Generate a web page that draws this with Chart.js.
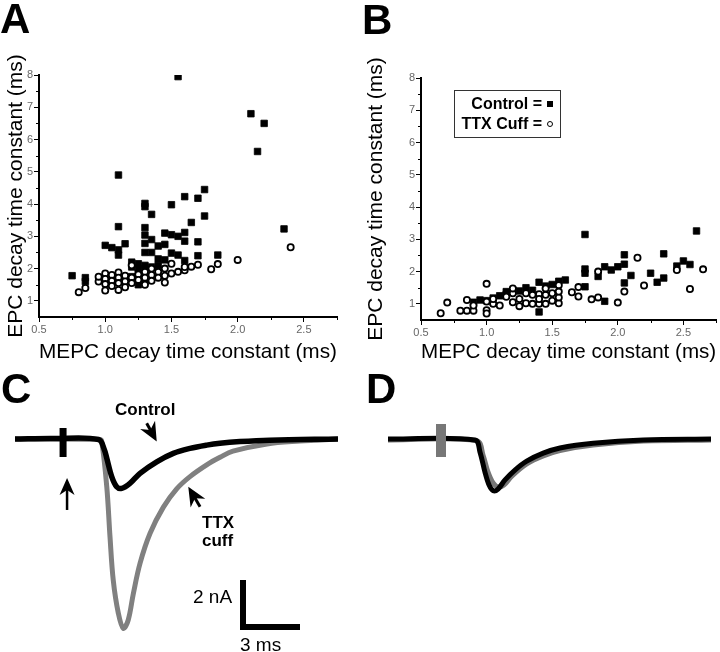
<!DOCTYPE html>
<html>
<head>
<meta charset="utf-8">
<script src="https://cdn.jsdelivr.net/npm/chart.js@4"></script>
<style>
  body { margin: 0; width: 720px; height: 652px; overflow: hidden; position: relative; background: #fff;
         font-family: "Liberation Sans", Arial, sans-serif; }
  canvas { position: absolute; }
  .lbl { position: absolute; font-weight: bold; font-size: 42px; line-height: 42px; }
  .txt { position: absolute; white-space: nowrap; line-height: 20px; }
  #legend { position: absolute; left: 454px; top: 90px; width: 98px; height: 40px; padding: 3px 7px 3px 0;
            border: 1px solid #333; font-weight: bold; font-size: 16px; line-height: 20px; text-align: right; }
  .sq { display: inline-block; width: 6px; height: 6px; background: #000; margin-left: 5px; vertical-align: 2px; }
  .ci { display: inline-block; width: 4px; height: 4px; border: 1.4px solid #000; border-radius: 50%; margin-left: 5px; vertical-align: 2px; }
</style>
</head>
<body>
<canvas id="chartA" width="360" height="365" style="left:0;top:0"></canvas>
<canvas id="chartB" width="362" height="365" style="left:360px;top:0"></canvas>
<canvas id="chartC" width="360" height="312" style="left:0;top:340px"></canvas>
<canvas id="chartD" width="360" height="312" style="left:360px;top:340px"></canvas>

<div class="lbl" style="left:0;top:-2px">A</div>
<div class="lbl" style="left:362px;top:-1px">B</div>
<div class="lbl" style="left:1px;top:368px">C</div>
<div class="lbl" style="left:366px;top:368px">D</div>

<div id="legend">
  <div>Control =<span class="sq"></span></div>
  <div>TTX Cuff =<span class="ci"></span></div>
</div>

<div class="txt" style="left:115px;top:400px;font-size:17px;font-weight:bold">Control</div>
<div class="txt" style="left:202px;top:513px;font-size:17px;font-weight:bold">TTX</div>
<div class="txt" style="left:202px;top:531px;font-size:17px;font-weight:bold">cuff</div>
<div class="txt" style="left:193px;top:587px;font-size:19px">2 nA</div>
<div class="txt" style="left:240px;top:635px;font-size:19px">3 ms</div>

<script>
// ---- scatter data: [MEPC decay (ms), EPC decay (ms)] ----
const aControl = [
  [0.75,1.78],[0.85,1.72],[0.85,1.6],
  [1.0,2.72],[1.05,2.65],[1.1,2.58],[1.1,2.42],[1.15,2.77],[1.1,3.3],[1.1,4.9],
  [1.2,2.2],[1.25,2.15],[1.2,2.05],[1.25,2.0],[1.3,2.1],[1.25,1.85],[1.3,1.95],[1.25,1.5],[1.3,1.6],[1.2,1.75],
  [1.3,2.5],[1.3,2.78],[1.3,3.04],[1.3,3.27],[1.3,3.92],[1.3,4.02],
  [1.35,3.68],[1.35,2.9],[1.35,2.5],[1.35,2.05],
  [1.4,2.7],[1.4,2.3],[1.4,2.1],[1.45,2.75],[1.45,3.1],[1.45,2.27],
  [1.5,3.05],[1.5,2.48],[1.5,3.98],[1.55,3.0],[1.55,2.42],[1.55,7.95],
  [1.6,3.12],[1.6,2.85],[1.6,2.25],[1.6,4.23],[1.65,3.43],[1.7,4.18],[1.7,2.83],[1.7,2.4],
  [1.75,4.45],[1.75,3.63],[1.85,2.42],
  [2.1,6.8],[2.15,5.63],[2.2,6.5],[2.35,3.23]
];
const aTtx = [
  [0.8,1.27],[0.85,1.4],[0.95,1.6],[0.95,1.75],
  [1.0,1.85],[1.0,1.68],[1.0,1.52],[1.0,1.32],
  [1.05,1.8],[1.05,1.62],[1.05,1.46],
  [1.1,1.88],[1.1,1.72],[1.1,1.55],[1.1,1.34],
  [1.15,1.78],[1.15,1.6],[1.15,1.42],
  [1.2,1.72],[1.2,1.55],[1.2,2.1],
  [1.25,1.82],[1.25,1.65],
  [1.3,1.9],[1.3,1.72],[1.3,1.5],
  [1.35,2.0],[1.35,1.8],[1.35,1.62],
  [1.4,1.9],[1.4,1.72],
  [1.45,2.0],[1.45,1.78],[1.45,1.57],
  [1.5,2.15],[1.5,1.85],
  [1.55,1.9],[1.6,1.95],[1.6,2.05],[1.65,2.06],[1.7,2.12],[1.8,1.98],[1.85,2.14],[2.0,2.27],[2.4,2.66]
];
const bControl = [
  [0.9,1.05],[0.95,1.12],[1.0,1.1],[1.05,1.18],[1.1,1.25],[1.15,1.38],[1.15,1.3],[1.2,1.42],[1.25,1.4],
  [1.3,1.5],[1.35,1.42],[1.4,1.67],[1.4,0.75],[1.45,1.55],[1.5,1.6],[1.55,1.7],[1.6,1.74],
  [1.75,3.15],[1.75,2.08],[1.75,1.95],[1.75,1.53],[1.85,1.85],[1.9,2.15],[1.95,2.05],[2.0,2.15],
  [2.05,2.23],[2.05,2.52],[2.05,1.65],[2.1,1.88],[1.9,1.08],[2.25,1.95],[2.3,1.67],[2.35,1.8],
  [2.35,2.55],[2.45,2.17],[2.5,2.33],[2.55,2.22],[2.6,3.26]
];
const bTtx = [
  [0.65,0.71],[0.7,1.04],[0.8,0.79],[0.85,0.79],[0.9,0.79],[0.85,1.12],[0.9,0.95],[1.0,1.62],[1.0,0.8],
  [1.0,0.7],[1.0,1.07],[1.05,1.0],[1.1,0.95],[1.05,1.15],[1.15,1.22],[1.2,1.33],[1.2,1.48],[1.2,1.05],
  [1.25,1.15],[1.25,0.93],[1.3,1.02],[1.3,1.33],[1.35,1.0],[1.35,1.28],[1.4,1.0],[1.4,1.3],[1.4,1.15],
  [1.45,1.0],[1.45,1.28],[1.45,1.48],[1.5,1.1],[1.5,1.33],[1.55,1.02],[1.55,1.2],[1.55,1.38],[1.55,1.58],
  [1.65,1.36],[1.7,1.23],[1.7,1.52],[1.8,1.14],[1.85,1.2],[1.85,2.0],[2.0,1.04],[2.05,1.38],[2.15,2.43],
  [2.2,1.57],[2.45,2.05],[2.55,1.46],[2.65,2.07]
];
const xTicks = [0.5, 1.0, 1.5, 2.0, 2.5];
const yTicks = [1, 2, 3, 4, 5, 6, 7, 8];
const xMinor = [0.75, 1.25, 1.75, 2.25, 2.75];
const yMinor = [1.5, 2.5, 3.5, 4.5, 5.5, 6.5, 7.5];

// ---- current traces: [time (ms), current (nA)] ----
const cControl = [[0,0],[2,0.02],[4.4,-0.02],[4.7,-0.45],[4.83,-0.82],[5.09,-1.6],[5.35,-2.03],[5.62,-2.1],
  [6.05,-1.89],[6.58,-1.46],[7.46,-0.97],[8.33,-0.61],[9.21,-0.4],[10.09,-0.26],[10.79,-0.18],[11.84,-0.11],[13.4,-0.05],[17,0]];
const cTtx = [[0,0],[4.45,-0.02],[4.56,-0.08],[4.83,-2.03],[5.0,-4.16],[5.17,-6.0],[5.44,-7.42],[5.7,-8.06],[5.96,-7.7],
  [6.23,-6.57],[6.58,-5.29],[7.11,-4.01],[7.81,-2.9],[8.51,-2.12],[9.21,-1.6],[10.09,-1.1],[10.79,-0.78],
  [11.47,-0.52],[13.26,-0.21],[15.0,-0.09],[17,0]];
const dControl = [[0,0],[4.58,-0.04],[4.84,-0.55],[5.1,-1.4],[5.32,-1.96],[5.54,-2.2],[5.79,-2.13],[6.16,-1.74],
  [6.68,-1.32],[7.3,-0.94],[8.17,-0.6],[9.05,-0.38],[10.8,-0.18],[13.44,-0.04],[17,0]];
const dTtx = [[0,-0.04],[4.68,-0.08],[5.0,-0.68],[5.26,-1.4],[5.53,-1.87],[5.8,-2.04],[6.1,-1.96],[6.53,-1.57],
  [7.3,-1.06],[8.17,-0.72],[9.05,-0.49],[10.8,-0.26],[13.44,-0.09],[17,-0.04]];
const cStim = [[2.53,0.47],[2.53,-0.77]];
const dStim = [[2.79,0.64],[2.79,-0.77]];
const scaleBar = [[12,-6],[12,-8],[15,-8]];   // 2 nA, 3 ms
const stimArrow = [[2.74,-3.02],[2.74,-1.66]];
const controlArrow = [[6.93,0.67],[7.46,-0.11]];
const ttxArrow = [[9.74,-2.88],[9.12,-2.03]];

Chart.defaults.font.family = '"Liberation Sans", Arial, sans-serif';
const pts = arr => arr.map(p => ({x: p[0], y: p[1]}));

// small ticks between the labelled ones
const minorTicks = {
  id: 'minorTicks',
  afterDraw(chart, args, opts) {
    const {ctx} = chart;
    const sx = chart.scales.x, sy = chart.scales.y;
    ctx.save();
    ctx.strokeStyle = '#000';
    ctx.lineWidth = 1;
    opts.x.forEach(v => {
      const px = Math.round(sx.getPixelForValue(v)) + 0.5;
      ctx.beginPath(); ctx.moveTo(px, sx.top); ctx.lineTo(px, sx.top + 3); ctx.stroke();
    });
    opts.y.forEach(v => {
      const py = Math.round(sy.getPixelForValue(v)) + 0.5;
      ctx.beginPath(); ctx.moveTo(sy.right, py); ctx.lineTo(sy.right - 3, py); ctx.stroke();
    });
    ctx.restore();
  }
};

const arrows = {
  id: 'arrows',
  afterDatasetsDraw(chart, args, opts) {
    const {ctx} = chart;
    const sx = chart.scales.x, sy = chart.scales.y;
    (opts.list || []).forEach(a => {
      const x0 = sx.getPixelForValue(a.pts[0][0]), y0 = sy.getPixelForValue(a.pts[0][1]);
      const x1 = sx.getPixelForValue(a.pts[1][0]), y1 = sy.getPixelForValue(a.pts[1][1]);
      const len = Math.hypot(x1 - x0, y1 - y0);
      ctx.save();
      ctx.translate(x1, y1);
      ctx.rotate(Math.atan2(y1 - y0, x1 - x0));
      ctx.strokeStyle = '#000';
      ctx.fillStyle = '#000';
      ctx.lineWidth = a.shaft;
      ctx.beginPath(); ctx.moveTo(-len, 0); ctx.lineTo(-a.head * 0.6, 0); ctx.stroke();
      ctx.beginPath();
      ctx.moveTo(0, 0);
      ctx.lineTo(-a.head, -a.wide / 2);
      ctx.lineTo(-a.head * 0.7, 0);
      ctx.lineTo(-a.head, a.wide / 2);
      ctx.closePath();
      ctx.fill();
      ctx.restore();
    });
  }
};

function scatterChart(id, control, ttx, yWidth, xHeight, pad) {
  new Chart(document.getElementById(id), {
    type: 'scatter',
    data: {
      datasets: [
        { label: 'TTX Cuff', data: pts(ttx), pointStyle: 'circle', pointRadius: 3.1, borderWidth: 1.8,
          borderColor: '#000', backgroundColor: '#fff' },
        { label: 'Control', data: pts(control), pointStyle: 'rect', pointRadius: 4.6, borderWidth: 0.8,
          borderColor: '#000', backgroundColor: '#000' }
      ]
    },
    options: {
      responsive: false,
      animation: false,
      events: [],
      layout: { padding: pad },
      plugins: { legend: { display: false }, tooltip: { enabled: false }, minorTicks: { x: xMinor, y: yMinor } },
      scales: {
        x: {
          type: 'linear', min: 0.5, max: 2.75,
          afterBuildTicks: s => { s.ticks = xTicks.map(v => ({value: v})); },
          afterFit: s => { s.height = xHeight; },
          grid: { drawOnChartArea: false, tickLength: 5, tickColor: '#000', tickWidth: 1 },
          border: { color: '#000', width: 2 },
          ticks: { color: '#666', font: { size: 11 }, padding: 1, callback: v => v.toFixed(1), maxRotation: 0 },
          title: { display: true, text: 'MEPC decay time constant (ms)', color: '#000', font: { size: 21 }, padding: 0 }
        },
        y: {
          type: 'linear', min: 0.5, max: 8,
          afterBuildTicks: s => { s.ticks = yTicks.map(v => ({value: v})); },
          afterFit: s => { s.width = yWidth; },
          grid: { drawOnChartArea: false, tickLength: 5, tickColor: '#000', tickWidth: 1 },
          border: { color: '#000', width: 2 },
          ticks: { color: '#666', font: { size: 11 }, padding: 1, callback: v => String(v) },
          title: { display: true, text: 'EPC decay time constant (ms)', color: '#000', font: { size: 21 }, padding: { top: 4, bottom: 0 } }
        }
      }
    },
    plugins: [minorTicks]
  });
}

scatterChart('chartA', aControl, aTtx, 39, 48, { top: 75, right: 23, bottom: 0, left: 0 });
scatterChart('chartB', bControl, bTtx, 61, 45, { top: 78, right: 1, bottom: 0, left: 0 });

function traceLine(data, color, width, smooth) {
  return { data: pts(data), showLine: true, pointRadius: 0, borderColor: color, borderWidth: width,
           backgroundColor: color, fill: false, tension: smooth ? 0.35 : 0,
           borderCapStyle: 'butt', borderJoinStyle: smooth ? 'round' : 'miter' };
}

function traceChart(id, datasets, pad, arrowList) {
  new Chart(document.getElementById(id), {
    type: 'scatter',
    data: { datasets: datasets },
    options: {
      responsive: false,
      animation: false,
      events: [],
      layout: { padding: pad },
      plugins: { legend: { display: false }, tooltip: { enabled: false }, arrows: { list: arrowList } },
      scales: {
        x: { type: 'linear', min: 0, max: 17, display: false },
        y: { type: 'linear', min: -9, max: 4, display: false }
      }
    },
    plugins: [arrows]
  });
}

traceChart('chartC', [
  traceLine(scaleBar, '#000', 6, false),
  traceLine(cStim, '#000', 7, false),
  traceLine(cControl, '#000', 5.5, true),
  traceLine(cTtx, '#808080', 5, true)
], { top: 5, right: 22, bottom: 1.5, left: 15 }, [
  { pts: stimArrow, shaft: 2.5, head: 17, wide: 15 },
  { pts: controlArrow, shaft: 3, head: 19, wide: 17 },
  { pts: ttxArrow, shaft: 3, head: 19, wide: 17 }
]);

traceChart('chartD', [
  traceLine(dStim, '#777', 10, false),
  traceLine(dControl, '#000', 5, true),
  traceLine(dTtx, '#777', 5, true)
], { top: 5, right: 9, bottom: 1.5, left: 28 }, []);
</script>
</body>
</html>
